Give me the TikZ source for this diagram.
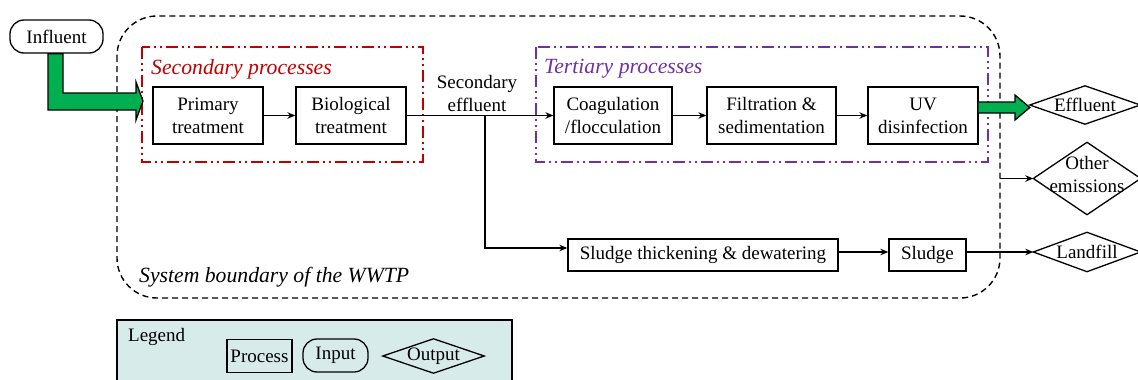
\documentclass[tikz,border=0pt]{standalone}
\usepackage{fontspec}
\setmainfont{Liberation Serif}
\usetikzlibrary{arrows.meta,calc}
\definecolor{wgreen}{RGB}{0,176,80}
\definecolor{wred}{RGB}{192,0,0}
\definecolor{wpurple}{RGB}{112,48,160}
\definecolor{legfill}{RGB}{216,235,235}
\begin{document}
\begin{tikzpicture}[x=1pt,y=-1pt,
  font=\fontsize{19}{23}\selectfont,
  proc/.style={draw, line width=1.3pt, align=center, inner sep=0pt},
  inp/.style={draw, line width=1.3pt, align=center, inner sep=0pt, rounded corners=14pt},
  outp/.style={align=center, inner sep=0pt},
  dmd/.style={line width=1.3pt},
  arr/.style={line width=1.3pt, -{Stealth[length=8pt,width=6.5pt]}},
  ln/.style={line width=1.3pt},
  garrow/.style={draw, line width=1.3pt, fill=wgreen, line join=miter},
  grp/.style={line width=1.3pt, dash pattern=on 12pt off 4pt on 2pt off 4pt on 2pt off 4pt},
  boundary/.style={line width=1.4pt, dash pattern=on 6pt off 4pt, rounded corners=40pt},
  lbl/.style={anchor=west, inner sep=0pt, font=\fontsize{21.7}{26}\selectfont\itshape}
]
\useasboundingbox (0,0) rectangle (1138,380);

% system boundary
\draw[boundary] (117,16) rectangle (1000,298);
\node[lbl] (sbl) at (139,277) {System boundary of the WWTP};

% groups
\draw[grp, wred] (142,47) rectangle (423,162);
\node[lbl, text=wred] (secl) at (151,69) {Secondary processes};
\draw[grp, wpurple] (536,47) rectangle (988,162);
\node[lbl, text=wpurple] (terl) at (544,69) {Tertiary processes};

% nodes
\node[inp, minimum width=93pt, minimum height=33pt] (infl) at (56.5,36.5) {Influent};
\node[proc, minimum width=110pt, minimum height=57pt] (prim) at (208,115.5) {Primary\\treatment};
\node[proc, minimum width=110pt, minimum height=57pt] (bio) at (351,115.5) {Biological\\treatment};
\node[outp] (sec) at (477,93) {Secondary\\effluent};
\node[proc, minimum width=118pt, minimum height=57pt] (coag) at (613,115.5) {Coagulation\\/flocculation};
\node[proc, minimum width=129pt, minimum height=57pt] (filt) at (771.5,115.5) {Filtration \&\\sedimentation};
\node[proc, minimum width=110pt, minimum height=57pt] (uv) at (923,115.5) {UV\\disinfection};
\node[proc, minimum width=270pt, minimum height=32pt] (thick) at (703,255) {Sludge thickening \& dewatering};
\node[proc, minimum width=77pt, minimum height=32pt] (sludge) at (927.5,255) {Sludge};

\node[outp, minimum width=110pt, minimum height=38pt] (eff) at (1085,105) {Effluent};
\node[outp, minimum width=107pt, minimum height=72pt] (oth) at (1087,178.5) {};
\node[outp] (othtxt) at ($(oth.center)+(0,-4)$) {Other\\emissions};
\node[outp, minimum width=107pt, minimum height=39pt] (land) at (1087,252) {Landfill};
\foreach \n in {eff,oth,land}
  \draw[dmd] (\n.west) -- (\n.north) -- (\n.east) -- (\n.south) -- cycle;

% connectors
\draw[arr] (prim) -- (bio);
\draw[arr] (bio) -- (coag);
\draw[arr] (coag) -- (filt);
\draw[arr] (filt) -- (uv);
\coordinate (junc) at (485,115.5);
\draw[arr] (junc) |- ([yshift=7pt]thick.west);
\draw[arr] ([yshift=3pt]thick.east) -- ([yshift=3pt]sludge.west);
\draw[arr] ([yshift=3pt]sludge.east) -- (land.west);
\coordinate (ob) at (1000,178.5);
\draw[arr] (ob) -- (oth.west);

% green arrows
\draw[garrow] ($(infl.south)+(-8.5,0)$) -- (48,110) -- (136,110) -- (136,120) -- (143,101) -- (136,82) -- (136,93) -- (63,93) -- ($(infl.south)+(6.5,0)$) -- cycle;
\draw[garrow] (uv.east |- 0,102) -- (1015,102) -- (1015,95) -- (eff.west |- 0,107.5) -- (1015,120) -- (1015,113) -- (uv.east |- 0,113);

% legend
\draw[line width=1.2pt, fill=legfill] (117,320) rectangle (512,385);
\node[anchor=west, inner sep=0pt] (legl) at (128,337) {Legend};
\node[proc, minimum width=65pt, minimum height=33pt] (lproc) at (259.5,356) {Process};
\node[inp, minimum width=65pt, minimum height=33pt] (linp) at (335.5,355.5) {Input};
\node[outp, minimum width=101pt, minimum height=34pt] (lout) at (433.5,356) {Output};
\draw[dmd] (lout.west) -- (lout.north) -- (lout.east) -- (lout.south) -- cycle;
\end{tikzpicture}
\end{document}
